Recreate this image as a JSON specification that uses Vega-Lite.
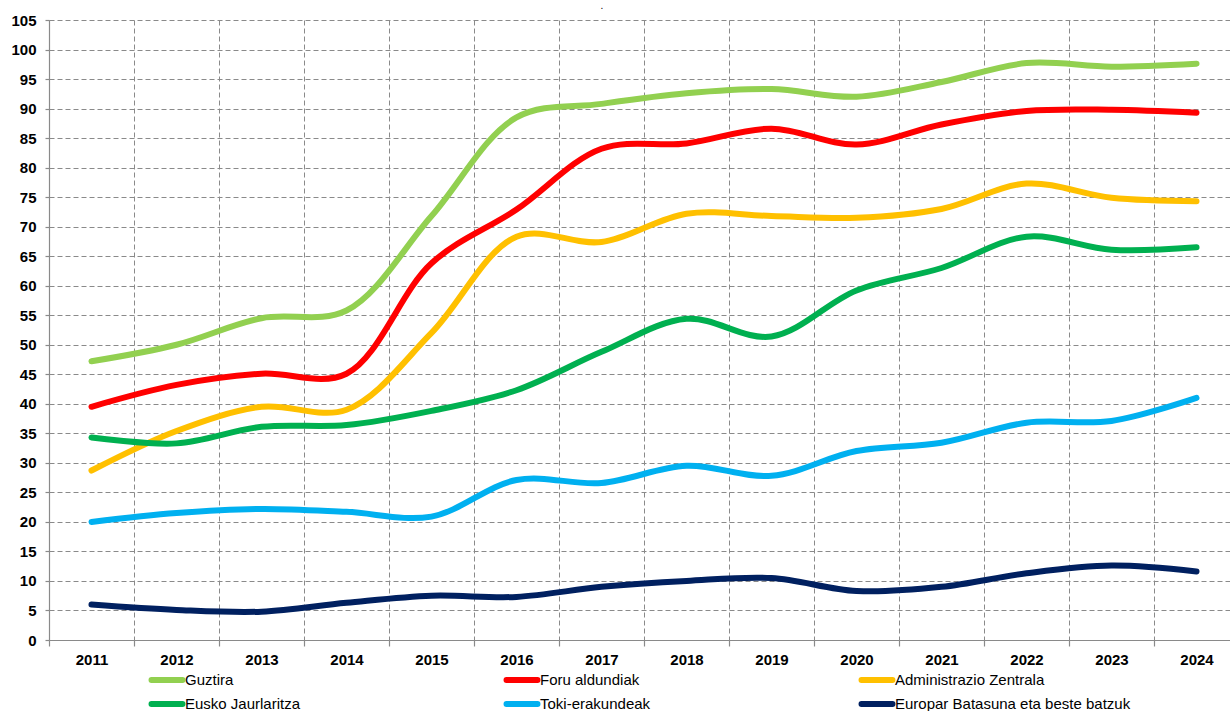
{
  "$schema": "https://vega.github.io/schema/vega-lite/v6.json",
  "autosize": {"type": "none"},
  "width": 1190,
  "height": 620,
  "padding": {"left": 49, "top": 20, "right": -9, "bottom": 71},
  "background": "white",
  "title": {"text": ".", "fontSize": 10, "fontWeight": "normal", "font": "Liberation Sans", "color": "#000000", "dx": -42, "offset": 2},
  "config": {
    "view": {"stroke": null},
    "font": "Liberation Sans",
    "axis": {
      "gridColor": "#8a8a8a", "gridDash": [5, 3], "gridWidth": 1,
      "domainColor": "#8a8a8a", "domainWidth": 1.2,
      "tickColor": "#8a8a8a", "tickWidth": 1.2,
      "labelFont": "Liberation Sans", "labelFontSize": 15, "labelFontWeight": "bold", "labelColor": "#000000",
      "title": null
    },
    "legend": {
      "orient": "none", "legendX": 107, "legendY": 649, "direction": "horizontal",
      "columns": 3, "gridAlign": "all", "columnPadding": 73, "rowPadding": 0,
      "symbolType": "M-2,0H2", "symbolSize": 240, "symbolStrokeWidth": 6,
      "labelFont": "Liberation Sans", "labelFontSize": 15, "labelColor": "#000000", "labelOffset": 7,
      "labelLimit": 400, "padding": 0, "title": null
    }
  },
  "data": {
    "values": [
      {"year": "2011", "series": "Guztira", "value": 47.2},
      {"year": "2012", "series": "Guztira", "value": 50.0},
      {"year": "2013", "series": "Guztira", "value": 54.5},
      {"year": "2014", "series": "Guztira", "value": 55.8},
      {"year": "2015", "series": "Guztira", "value": 71.8},
      {"year": "2016", "series": "Guztira", "value": 88.5},
      {"year": "2017", "series": "Guztira", "value": 90.8},
      {"year": "2018", "series": "Guztira", "value": 92.6},
      {"year": "2019", "series": "Guztira", "value": 93.3},
      {"year": "2020", "series": "Guztira", "value": 92.0},
      {"year": "2021", "series": "Guztira", "value": 94.5},
      {"year": "2022", "series": "Guztira", "value": 97.7},
      {"year": "2023", "series": "Guztira", "value": 97.1},
      {"year": "2024", "series": "Guztira", "value": 97.6},

      {"year": "2011", "series": "Foru aldundiak", "value": 39.5},
      {"year": "2012", "series": "Foru aldundiak", "value": 43.2},
      {"year": "2013", "series": "Foru aldundiak", "value": 45.1},
      {"year": "2014", "series": "Foru aldundiak", "value": 45.1},
      {"year": "2015", "series": "Foru aldundiak", "value": 63.8},
      {"year": "2016", "series": "Foru aldundiak", "value": 72.9},
      {"year": "2017", "series": "Foru aldundiak", "value": 83.2},
      {"year": "2018", "series": "Foru aldundiak", "value": 84.1},
      {"year": "2019", "series": "Foru aldundiak", "value": 86.6},
      {"year": "2020", "series": "Foru aldundiak", "value": 83.9},
      {"year": "2021", "series": "Foru aldundiak", "value": 87.3},
      {"year": "2022", "series": "Foru aldundiak", "value": 89.6},
      {"year": "2023", "series": "Foru aldundiak", "value": 89.8},
      {"year": "2024", "series": "Foru aldundiak", "value": 89.3},

      {"year": "2011", "series": "Administrazio Zentrala", "value": 28.7},
      {"year": "2012", "series": "Administrazio Zentrala", "value": 35.4},
      {"year": "2013", "series": "Administrazio Zentrala", "value": 39.5},
      {"year": "2014", "series": "Administrazio Zentrala", "value": 39.0},
      {"year": "2015", "series": "Administrazio Zentrala", "value": 52.0},
      {"year": "2016", "series": "Administrazio Zentrala", "value": 68.3},
      {"year": "2017", "series": "Administrazio Zentrala", "value": 67.4},
      {"year": "2018", "series": "Administrazio Zentrala", "value": 72.2},
      {"year": "2019", "series": "Administrazio Zentrala", "value": 71.8},
      {"year": "2020", "series": "Administrazio Zentrala", "value": 71.5},
      {"year": "2021", "series": "Administrazio Zentrala", "value": 73.0},
      {"year": "2022", "series": "Administrazio Zentrala", "value": 77.3},
      {"year": "2023", "series": "Administrazio Zentrala", "value": 74.9},
      {"year": "2024", "series": "Administrazio Zentrala", "value": 74.3},

      {"year": "2011", "series": "Eusko Jaurlaritza", "value": 34.3},
      {"year": "2012", "series": "Eusko Jaurlaritza", "value": 33.3},
      {"year": "2013", "series": "Eusko Jaurlaritza", "value": 36.1},
      {"year": "2014", "series": "Eusko Jaurlaritza", "value": 36.4},
      {"year": "2015", "series": "Eusko Jaurlaritza", "value": 38.8},
      {"year": "2016", "series": "Eusko Jaurlaritza", "value": 42.3},
      {"year": "2017", "series": "Eusko Jaurlaritza", "value": 48.8},
      {"year": "2018", "series": "Eusko Jaurlaritza", "value": 54.4},
      {"year": "2019", "series": "Eusko Jaurlaritza", "value": 51.4},
      {"year": "2020", "series": "Eusko Jaurlaritza", "value": 59.2},
      {"year": "2021", "series": "Eusko Jaurlaritza", "value": 63.0},
      {"year": "2022", "series": "Eusko Jaurlaritza", "value": 68.3},
      {"year": "2023", "series": "Eusko Jaurlaritza", "value": 66.1},
      {"year": "2024", "series": "Eusko Jaurlaritza", "value": 66.5},

      {"year": "2011", "series": "Toki-erakundeak", "value": 20.0},
      {"year": "2012", "series": "Toki-erakundeak", "value": 21.5},
      {"year": "2013", "series": "Toki-erakundeak", "value": 22.2},
      {"year": "2014", "series": "Toki-erakundeak", "value": 21.7},
      {"year": "2015", "series": "Toki-erakundeak", "value": 20.9},
      {"year": "2016", "series": "Toki-erakundeak", "value": 27.1},
      {"year": "2017", "series": "Toki-erakundeak", "value": 26.6},
      {"year": "2018", "series": "Toki-erakundeak", "value": 29.5},
      {"year": "2019", "series": "Toki-erakundeak", "value": 27.8},
      {"year": "2020", "series": "Toki-erakundeak", "value": 32.0},
      {"year": "2021", "series": "Toki-erakundeak", "value": 33.4},
      {"year": "2022", "series": "Toki-erakundeak", "value": 36.8},
      {"year": "2023", "series": "Toki-erakundeak", "value": 37.1},
      {"year": "2024", "series": "Toki-erakundeak", "value": 41.0},

      {"year": "2011", "series": "Europar Batasuna eta beste batzuk", "value": 6.0},
      {"year": "2012", "series": "Europar Batasuna eta beste batzuk", "value": 5.1},
      {"year": "2013", "series": "Europar Batasuna eta beste batzuk", "value": 4.8},
      {"year": "2014", "series": "Europar Batasuna eta beste batzuk", "value": 6.3},
      {"year": "2015", "series": "Europar Batasuna eta beste batzuk", "value": 7.5},
      {"year": "2016", "series": "Europar Batasuna eta beste batzuk", "value": 7.3},
      {"year": "2017", "series": "Europar Batasuna eta beste batzuk", "value": 9.0},
      {"year": "2018", "series": "Europar Batasuna eta beste batzuk", "value": 10.0},
      {"year": "2019", "series": "Europar Batasuna eta beste batzuk", "value": 10.5},
      {"year": "2020", "series": "Europar Batasuna eta beste batzuk", "value": 8.3},
      {"year": "2021", "series": "Europar Batasuna eta beste batzuk", "value": 9.0},
      {"year": "2022", "series": "Europar Batasuna eta beste batzuk", "value": 11.3},
      {"year": "2023", "series": "Europar Batasuna eta beste batzuk", "value": 12.6},
      {"year": "2024", "series": "Europar Batasuna eta beste batzuk", "value": 11.6}
    ]
  },
  "mark": {"type": "line", "interpolate": "catmull-rom", "strokeWidth": 6, "strokeCap": "round", "strokeJoin": "round"},
  "encoding": {
    "x": {
      "field": "year", "type": "ordinal", "bandPosition": 0.5,
      "scale": {"type": "band", "paddingInner": 0, "paddingOuter": 0},
      "axis": {"labelAngle": 0, "tickBand": "extent", "grid": true, "tickSize": 6, "labelPadding": 6}
    },
    "y": {
      "field": "value", "type": "quantitative",
      "scale": {"domain": [0, 105], "nice": false, "zero": true},
      "axis": {"values": [0,5,10,15,20,25,30,35,40,45,50,55,60,65,70,75,80,85,90,95,100,105], "tickSize": 4, "labelPadding": 9, "grid": true}
    },
    "color": {
      "field": "series", "type": "nominal",
      "scale": {
        "domain": ["Guztira", "Foru aldundiak", "Administrazio Zentrala", "Eusko Jaurlaritza", "Toki-erakundeak", "Europar Batasuna eta beste batzuk"],
        "range": ["#92D050", "#FF0000", "#FFC000", "#00B050", "#00B0F0", "#002060"]
      },
      "legend": {
        "encode": {"symbols": {"update": {"strokeCap": {"value": "round"}}}}
      }
    }
  }
}
